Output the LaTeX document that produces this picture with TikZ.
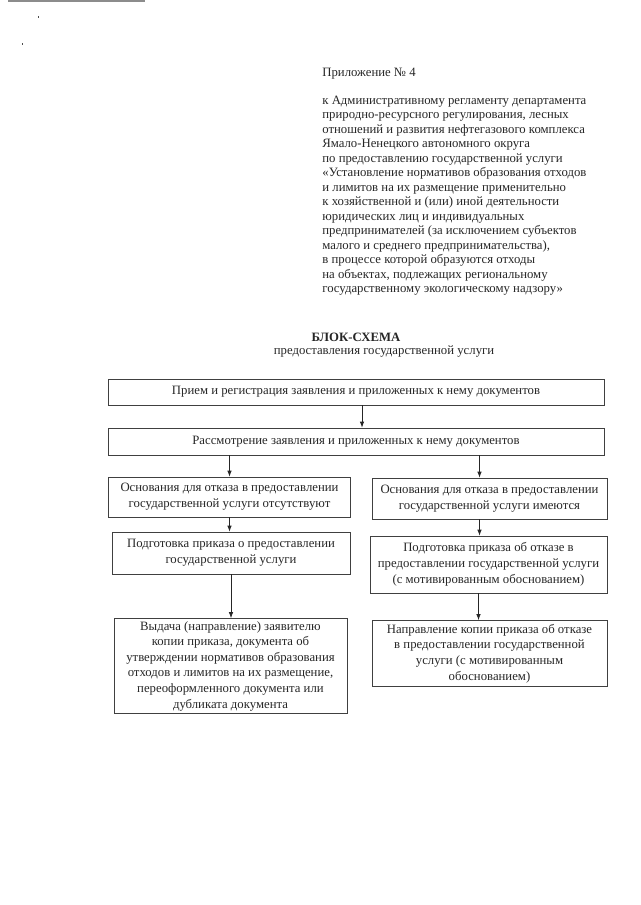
\documentclass[tikz,border=0pt]{standalone}
\usepackage{fontspec}
\setmainfont{Liberation Serif}
\usetikzlibrary{arrows.meta}
\tikzset{every picture/.style={line width=0.75pt}}

\begin{document}
\begin{tikzpicture}[x=1pt,y=-1pt,
        txt/.style={text=black!85, inner sep=0pt, font=\fontsize{12.75}{14.5}\selectfont},
        box/.style={draw=black!75, text=black!85, align=center, inner sep=0pt, font=\fontsize{12.75}{15.8}\selectfont},
        arr/.style={-{Latex[length=6pt,width=4.5pt]}, black!85}]
        \useasboundingbox (0,0) rectangle (640,905);
        % scan marks
        \fill[black!45] (8,0) rectangle (145,1.5);
        \fill[black!70] (37.5,16) rectangle (39,17.5);
        \fill[black!70] (21.5,43) rectangle (23,44.5);
        % header
        \node[txt, anchor=west] (annex) at (322,74) {Приложение № 4};
        \node[txt, anchor=north west, align=left] (basis) at (322,95.5) {к Административному регламенту департамента\\
            природно-ресурсного регулирования, лесных\\
            отношений и развития нефтегазового комплекса\\
            Ямало-Ненецкого автономного округа\\
            по предоставлению государственной услуги\\
            «Установление нормативов образования отходов\\
            и лимитов на их размещение применительно\\
            к хозяйственной и (или) иной деятельности\\
            юридических лиц и индивидуальных\\
            предпринимателей (за исключением субъектов\\
            малого и среднего предпринимательства),\\
            в процессе которой образуются отходы\\
            на объектах, подлежащих региональному\\
            государственному экологическому надзору»};
        \node[txt, font=\fontsize{12.75}{14.5}\selectfont\bfseries] (title) at (356,337) {БЛОК-СХЕМА};
        \node[txt] (subtitle) at (384,352) {предоставления государственной услуги};
        % boxes
        \node[box, minimum width=496pt, minimum height=26pt] (recv) at (356,392)
            {Прием и регистрация заявления и приложенных к нему документов};
        \node[box, minimum width=496pt, minimum height=27pt] (exam) at (356,441.5)
            {Рассмотрение заявления и приложенных к нему документов};
        \node[box, minimum width=242pt, minimum height=40pt] (okgrnd) at (229.5,497)
            {Основания для отказа в предоставлении\\государственной услуги отсутствуют};
        \node[box, minimum width=235pt, minimum height=41pt] (nogrnd) at (489.5,498.5)
            {Основания для отказа в предоставлении\\государственной услуги имеются};
        \node[box, minimum width=238pt, minimum height=42pt] (prepok) at (231,553)
            {Подготовка приказа о предоставлении\\государственной услуги};
        \node[box, minimum width=237pt, minimum height=57pt] (prepno) at (488.5,564.5)
            {Подготовка приказа об отказе в\\предоставлении государственной услуги\\(с мотивированным обоснованием)};
        \node[box, minimum width=233pt, minimum height=95pt, font=\fontsize{12.75}{15.6}\selectfont] (issue) at (230.5,666)
            {Выдача (направление) заявителю\\копии приказа, документа об\\утверждении нормативов образования\\отходов и лимитов на их размещение,\\переоформленного документа или\\дубликата документа};
        \node[box, minimum width=235pt, minimum height=66pt] (sendno) at (489.5,653.5)
            {Направление копии приказа об отказе\\в предоставлении государственной\\услуги (с мотивированным\\обоснованием)};
        % arrows
        \draw[arr] ([xshift=6pt]recv.south) -- ([xshift=6pt]exam.north);
        \draw[arr] (okgrnd.north |- exam.south) -- (okgrnd.north);
        \draw[arr] ([xshift=-10pt]nogrnd.north |- exam.south) -- ([xshift=-10pt]nogrnd.north);
        \draw[arr] (okgrnd.south) -- (okgrnd.south |- prepok.north);
        \draw[arr] ([xshift=-10pt]nogrnd.south) -- ([xshift=-10pt]nogrnd.south |- prepno.north);
        \draw[arr] (prepok.south) -- (prepok.south |- issue.north);
        \draw[arr] ([xshift=-10pt]prepno.south) -- ([xshift=-10pt]prepno.south |- sendno.north);
\end{tikzpicture}
\end{document}
